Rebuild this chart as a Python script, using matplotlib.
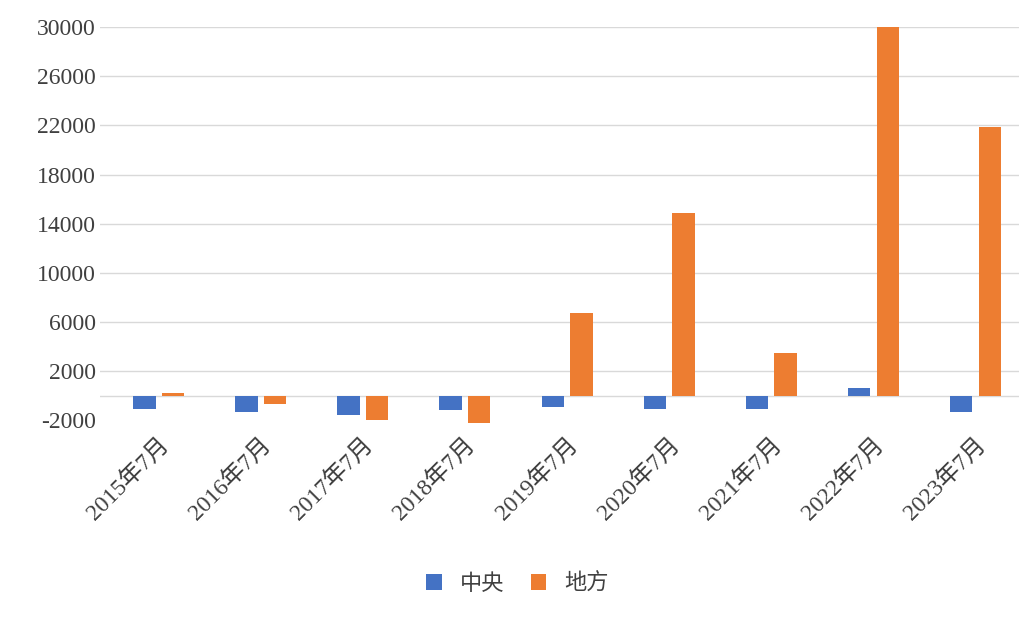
import matplotlib
matplotlib.use("Agg")
import matplotlib.pyplot as plt
import numpy as np

plt.rcParams['font.family'] = ['Liberation Serif', 'Noto Sans CJK SC']

categories = ["2015年7月", "2016年7月", "2017年7月", "2018年7月", "2019年7月",
              "2020年7月", "2021年7月", "2022年7月", "2023年7月"]
central = [-1060, -1300, -1550, -1200, -900, -1050, -1050, 600, -1300]
local = [250, -700, -1950, -2200, 6700, 14900, 3500, 30000, 21900]

BLUE = "#4472C4"; ORANGE = "#ED7D31"

fig = plt.figure(figsize=(10.35, 6.18), dpi=100)
ax = fig.add_axes([0.097, 0.32, 0.888, 0.636])
x = np.arange(len(categories)); w = 0.22
b1 = ax.bar(x - 0.14, central, w, color=BLUE, label="中央", zorder=3)
b2 = ax.bar(x + 0.14, local, w, color=ORANGE, label="地方", zorder=3)
for b in list(b1) + list(b2):
    b.set_clip_on(False)

ax.set_ylim(-2000, 30000); ax.set_xlim(-0.57, len(categories) - 0.57)
ticks = list(range(-2000, 30001, 4000))
ax.set_yticks(ticks)
ax.set_yticklabels([str(t) for t in ticks], fontsize=17, color="#404040")
for t in ticks[1:]:
    ax.axhline(t, color="#D9D9D9", lw=1, zorder=1)
ax.axhline(0, color="#D9D9D9", lw=1, zorder=1)
ax.set_xticks(x)
ax.set_xticklabels(categories, rotation=45, ha="right", rotation_mode="anchor",
                   fontsize=17, color="#404040")
ax.tick_params(length=0)
for s in ax.spines.values():
    s.set_visible(False)
ax.xaxis.set_tick_params(pad=10)

fig.legend(loc="center", bbox_to_anchor=(0.5, 0.055), ncol=2, frameon=False,
           fontsize=16, handlelength=0.7, handleheight=0.7, columnspacing=1.2,
           labelcolor="#404040")
fig.savefig("out.png")
